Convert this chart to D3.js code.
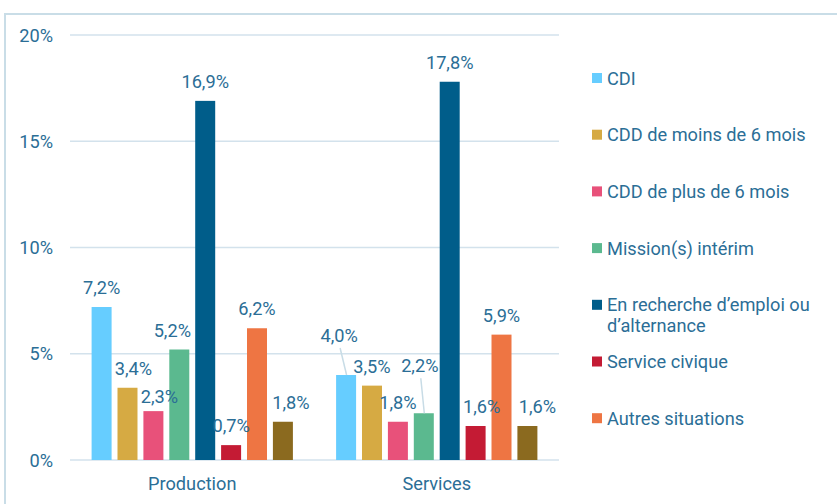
<!DOCTYPE html>
<html lang="fr">
<head>
<meta charset="UTF-8">
<title>Situation par filière</title>
<script src="https://d3js.org/d3.v7.min.js"></script>
<style>
    body { margin: 0; background: #fff; }
    svg text { font-family: Roboto, "Liberation Sans", sans-serif; fill: #2b6e96; }
    .grid line { stroke: #d3e2ec; stroke-width: 1.5px; }
</style>
</head>
<body>
<svg id="chart" width="837" height="504"></svg>
<script>
    // data
    const groups = ["Production", "Services"];
    const series = ["CDI", "CDD de moins de 6 mois", "CDD de plus de 6 mois", "Mission(s) intérim",
        "En recherche d’emploi ou d’alternance", "Service civique", "Autres situations", "Non renseigné"];
    const production = [7.2, 3.4, 2.3, 5.2, 16.9, 0.7, 6.2, 1.8];
    const services = [4.0, 3.5, 1.8, 2.2, 17.8, 1.6, 5.9, 1.6];
    const yTicks = [0, 5, 10, 15, 20];
    const colors = ["#66cdff", "#d6aa43", "#e8517a", "#5bb98f", "#005d8a", "#c41b34", "#ee7543", "#8b6a1f"];

    // label tweaks (dx, extra lift) where Excel moved them
    const labelNudge = {
        "Production-1": [6, 0], "Production-2": [6, -5], "Production-3": [-7, 0], "Production-7": [8, 0],
        "Services-0": [-7, 20], "Services-3": [-4, 28], "Services-5": [6, 0], "Services-7": [10, 0]
    };

    const fs = 18.2;
    const svg = d3.select("#chart");

    // frame
    svg.append("path").attr("d", "M5,504 V14 H837")
        .attr("fill", "none").attr("stroke", "#c9dde7").attr("stroke-width", 2);

    const y = d3.scaleLinear().domain([0, 20]).range([460, 35]);
    const x0 = d3.scaleBand().domain(groups).range([70, 559]);
    const x1 = d3.scaleBand().domain(d3.range(series.length)).range([0, x0.bandwidth()])
        .paddingInner(0.228).paddingOuter(0.834);

    const grid = svg.append("g").attr("class", "grid");
    grid.selectAll("line").data(yTicks).join("line")
        .attr("x1", 70).attr("x2", 559)
        .attr("y1", d => y(d)).attr("y2", d => y(d));

    svg.append("g").selectAll("text").data(yTicks).join("text")
        .attr("x", 53).attr("y", d => y(d) + 6.5)
        .attr("text-anchor", "end").attr("font-size", fs)
        .text(d => d + "%");

    svg.append("g").selectAll("text").data(groups).join("text")
        .attr("x", d => x0(d) + x0.bandwidth() / 2).attr("y", 490)
        .attr("text-anchor", "middle").attr("font-size", fs)
        .text(d => d);

    const rows = [];
    groups.forEach((g, gi) => {
        const vals = gi === 0 ? production : services;
        vals.forEach((v, i) => rows.push({ g, i, v }));
    });

    svg.append("g").selectAll("rect").data(rows).join("rect")
        .attr("x", d => x0(d.g) + x1(d.i))
        .attr("width", x1.bandwidth())
        .attr("y", d => y(d.v))
        .attr("height", d => y(0) - y(d.v))
        .attr("fill", d => colors[d.i]);

    const fmt = v => v.toFixed(1).replace(".", ",") + "%";
    const labels = svg.append("g");
    rows.forEach(d => {
        const nd = labelNudge[d.g + "-" + d.i] || [0, 0];
        const cx = x0(d.g) + x1(d.i) + x1.bandwidth() / 2;
        const by = y(d.v) - 13 - nd[1];
        if (nd[1] > 10) {
            labels.append("line")
                .attr("x1", cx + nd[0] + 1).attr("y1", by + 6)
                .attr("x2", cx + 0.5).attr("y2", y(d.v))
                .attr("stroke", "#c8dce6").attr("stroke-width", 1.5);
        }
        labels.append("text")
            .attr("x", cx + nd[0]).attr("y", by)
            .attr("text-anchor", "middle").attr("font-size", fs)
            .text(fmt(d.v));
    });

    // legend (last series falls outside the box in the original)
    const legendNames = series.slice(0, 7);
    const lg = svg.append("g");
    legendNames.forEach((name, i) => {
        const cy = 78 + i * 56.7;
        lg.append("rect").attr("x", 592).attr("y", cy - 5).attr("width", 10).attr("height", 10)
            .attr("fill", colors[i]);
        const t = lg.append("text").attr("x", 607).attr("y", cy + 6.5).attr("font-size", fs);
        if (name.startsWith("En recherche")) {
            t.append("tspan").attr("x", 607).text("En recherche d’emploi ou");
            t.append("tspan").attr("x", 607).attr("dy", 21).text("d’alternance");
        } else {
            t.text(name);
        }
    });
</script>
</body>
</html>
